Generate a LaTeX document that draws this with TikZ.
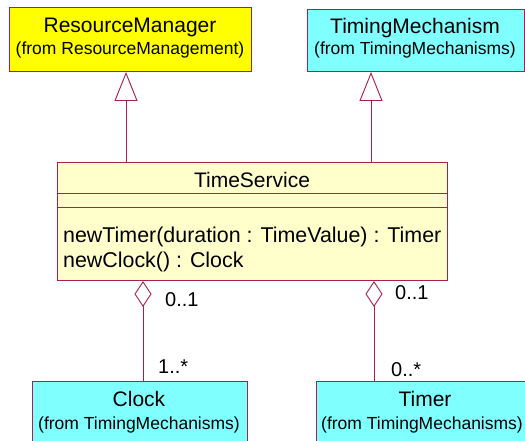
\documentclass[tikz,border=0pt]{standalone}
\usepackage{fontspec}
\setmainfont{Liberation Sans}
\usetikzlibrary{arrows.meta}
\definecolor{rose}{RGB}{168,32,80}
\definecolor{ryellow}{RGB}{255,255,0}
\definecolor{rcyan}{RGB}{128,255,255}
\definecolor{rpale}{RGB}{255,255,204}
\tikzset{
  box/.style={draw=rose, line width=1pt, anchor=north west, inner sep=0pt},
  ttl/.style={anchor=base, inner sep=0pt, font=\fontsize{21}{24}\selectfont},
  sub/.style={anchor=base, inner sep=0pt, font=\fontsize{17.5}{20}\selectfont},
  op/.style={anchor=base west, inner sep=0pt, font=\fontsize{21.4}{24}\selectfont},
  mult/.style={anchor=base west, inner sep=0pt, font=\fontsize{20}{24}\selectfont},
  gen/.style={draw=rose, line width=0.9pt, -{Triangle[open, length=29pt, width=23pt]}},
  agg/.style={draw=rose, line width=0.9pt, -{Diamond[open, length=26pt, width=17pt]}},
}
\begin{document}
\begin{tikzpicture}[x=1pt,y=1pt]
\useasboundingbox (0,0) rectangle (525,-441);
% boxes
\node[box, fill=ryellow, minimum width=242pt, minimum height=64pt] (rm) at (9,-7) {};
\node[box, fill=rcyan, minimum width=217pt, minimum height=62pt] (tm) at (307,-9) {};
\node[box, fill=rpale, minimum width=390pt, minimum height=118pt] (ts) at (57,-162) {};
\node[box, fill=rcyan, minimum width=215pt, minimum height=80pt] (clk) at (32,-381) {};
\node[box, fill=rcyan, minimum width=218pt, minimum height=80pt] (tmr) at (316,-381) {};
% compartments
\draw[rose, line width=1pt] (57,-194) coordinate (c1a) -- (447,-194) coordinate (c1b);
\draw[rose, line width=1pt] (57,-207) coordinate (c2a) -- (447,-207) coordinate (c2b);
% texts
\node[ttl] (rmt) at (130,-33) {ResourceManager};
\node[sub] (rms) at (130,-55) {(from ResourceManagement)};
\node[ttl] (tmt) at (415,-34) {TimingMechanism};
\node[sub] (tms) at (415,-55) {(from TimingMechanisms)};
\node[ttl] (tst) at (252,-187) {TimeService};
\node[op] (op1) at (63,-242) {newTimer(duration : TimeValue) : Timer};
\node[op] (op2) at (63,-267) {newClock() : Clock};
\node[ttl] (clkt) at (139,-406) {Clock};
\node[sub] (clks) at (139,-429) {(from TimingMechanisms)};
\node[ttl] (tmrt) at (425,-406) {Timer};
\node[sub, anchor=base west] (tmrs) at (321,-429) {(from TimingMechanisms)};
% connector x positions
\coordinate (g1) at (126,0);
\coordinate (g2) at (371,0);
\coordinate (d1) at (143,0);
\coordinate (d2) at (374,0);
% generalizations
\draw[gen] (ts.north -| g1) -- (rm.south -| g1);
\draw[gen] (ts.north -| g2) -- (tm.south -| g2);
% aggregations
\draw[agg] (clk.north -| d1) -- (ts.south -| d1);
\draw[agg] (tmr.north -| d2) -- (ts.south -| d2);
% multiplicities
\node[mult] (m1) at (165,-306) {0..1};
\node[mult] (m2) at (158,-373) {1..*};
\node[mult] (m3) at (395,-299) {0..1};
\node[mult] (m4) at (391,-376) {0..*};
\end{tikzpicture}
\end{document}
